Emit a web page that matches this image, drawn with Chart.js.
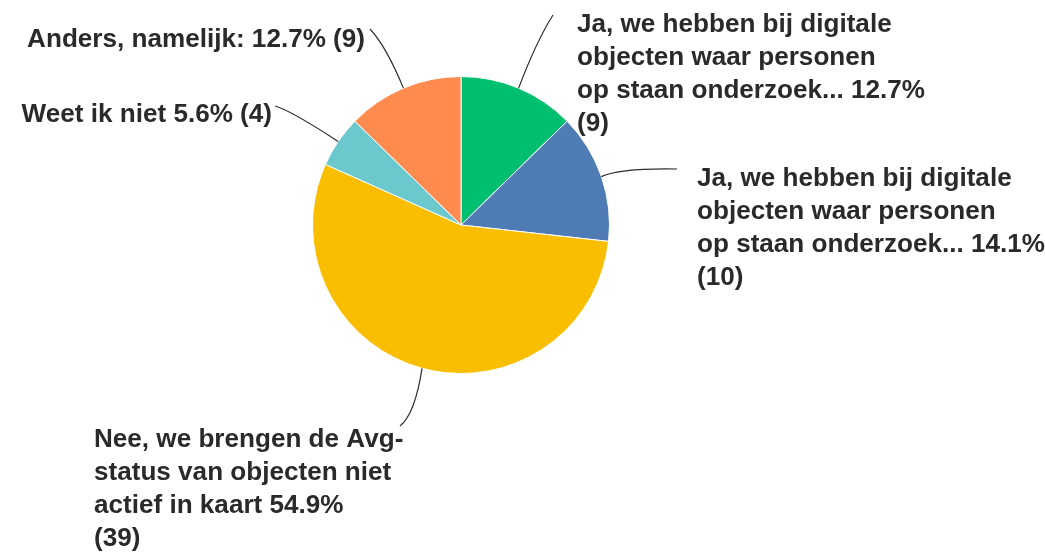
<!DOCTYPE html>
<html>
<head>
<meta charset="utf-8">
<script src="https://cdn.jsdelivr.net/npm/chart.js@4/dist/chart.umd.min.js"></script>
<style>
  html, body { margin: 0; padding: 0; background: #fff; }
  #wrap { width: 1045px; height: 553px; position: relative; }
</style>
</head>
<body>
<div id="wrap"><canvas id="chart-area"></canvas></div>
<script>
// answers, clockwise from 12 o'clock (line breaks as shown in the survey export)
var categories = [
    "Ja, we hebben bij digitale\nobjecten waar personen\nop staan onderzoek...",
    "Ja, we hebben bij digitale\nobjecten waar personen\nop staan onderzoek...",
    "Nee, we brengen de Avg-\nstatus van objecten niet\nactief in kaart",
    "Weet ik niet",
    "Anders, namelijk:"
];
var counts = [9, 10, 39, 4, 9];
var colors = ["#00BF6F", "#507CB6", "#F9BE00", "#6BC8CD", "#FF8B4F"];

// where each label goes (text anchor, wrap width, end of the leader line)
var labelLayout = [
    { x: 577, y: 32, align: "left", wrap: 350, lineEnd: [553, 15], ctrl: [537, 40] },
    { x: 697, y: 186, align: "left", wrap: 350, lineEnd: [677, 169], ctrl: [620, 168] },
    { x: 94, y: 447, align: "left", wrap: 290, lineEnd: [400, 426], ctrl: [415, 414] },
    { x: 272, y: 122, align: "right", wrap: 400, lineEnd: [275, 106], ctrl: [290, 110] },
    { x: 365, y: 47, align: "right", wrap: 400, lineEnd: [370, 29], ctrl: [386, 46] }
];

var FONT_FAMILY = "'Liberation Sans', Arial, sans-serif";
var LINE_H = 33;
var total = counts.reduce(function(a, b) { return a + b; }, 0);

// size the font so the "Anders" label is as wide as in the original (~338px)
function pickFont(ctx) {
    ctx.font = "700 20px " + FONT_FAMILY;
    var w = ctx.measureText("Anders, namelijk: 12.7% (9)").width;
    var size = Math.round(20 * 338 / w * 10) / 10;
    return "700 " + size + "px " + FONT_FAMILY;
}

function buildLines(ctx, i, wrap) {
    var lines = categories[i].split("\n");
    var pct = (counts[i] / total * 100).toFixed(1) + "%";
    var cnt = "(" + counts[i] + ")";
    lines[lines.length - 1] += " " + pct;
    var last = lines[lines.length - 1] + " " + cnt;
    if (ctx.measureText(last).width > wrap) {
        lines.push(cnt);
    } else {
        lines[lines.length - 1] = last;
    }
    return lines;
}

var pieLabels = {
    id: "pieLabels",
    afterDraw: function(chart) {
        var ctx = chart.ctx;
        var arcs = chart.getDatasetMeta(0).data;
        ctx.save();
        ctx.font = pickFont(ctx);
        ctx.fillStyle = "#2a2a2a";
        ctx.strokeStyle = "#2e2e2e";
        ctx.lineWidth = 1.2;
        arcs.forEach(function(arc, i) {
            var lay = labelLayout[i];
            var mid = (arc.startAngle + arc.endAngle) / 2;
            var sx = arc.x + Math.cos(mid) * arc.outerRadius;
            var sy = arc.y + Math.sin(mid) * arc.outerRadius;
            ctx.beginPath();
            ctx.moveTo(sx, sy);
            ctx.quadraticCurveTo(lay.ctrl[0], lay.ctrl[1], lay.lineEnd[0], lay.lineEnd[1]);
            ctx.stroke();

            var lines = buildLines(ctx, i, lay.wrap);
            ctx.textAlign = lay.align;
            ctx.textBaseline = "alphabetic";
            lines.forEach(function(line, k) {
                ctx.fillText(line, lay.x, lay.y + k * LINE_H);
            });
        });
        ctx.restore();
    }
};

var config = {
    type: "pie",
    data: {
        labels: categories,
        datasets: [{
            data: counts,
            backgroundColor: colors,
            borderColor: "#ffffff",
            borderWidth: 1
        }]
    },
    options: {
        responsive: true,
        maintainAspectRatio: false,
        animation: false,
        layout: {
            padding: { top: 76, bottom: 179, left: 312, right: 435 }
        },
        plugins: {
            legend: { display: false },
            tooltip: { enabled: false }
        }
    },
    plugins: [pieLabels]
};

var canvas = document.getElementById("chart-area");
var chart = new Chart(canvas, config);
</script>
</body>
</html>
